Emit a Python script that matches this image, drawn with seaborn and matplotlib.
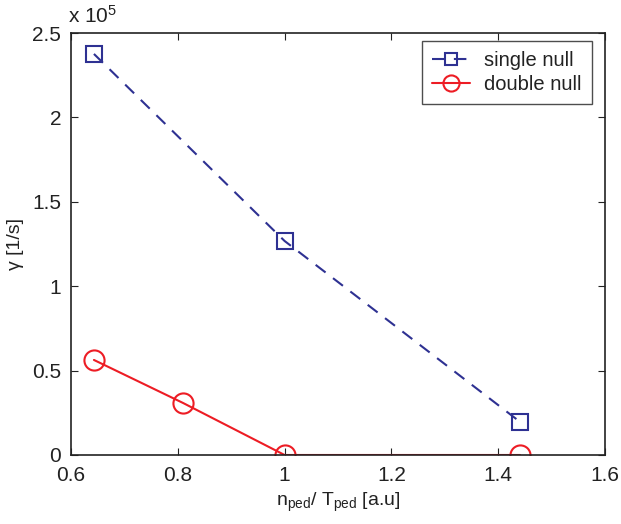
import matplotlib
matplotlib.use("Agg")
import matplotlib.pyplot as plt
import pandas as pd
import seaborn as sns

# values (y in units of 1e5)
single_x = [0.643, 1.0, 1.441]
single_y = [2.376, 1.268, 0.196]
double_x = [0.643, 0.81, 1.0, 1.441]
double_y = [0.563, 0.308, 0.0, 0.0]

x_ticks = [0.6, 0.8, 1.0, 1.2, 1.4, 1.6]
x_tick_labels = ["0.6", "0.8", "1", "1.2", "1.4", "1.6"]
y_ticks = [0, 0.5, 1, 1.5, 2, 2.5]
y_tick_labels = ["0", "0.5", "1", "1.5", "2", "2.5"]

blue = "#2e3192"
red = "#ed1c24"
txt = "#222222"

sns.set_style("ticks")
plt.rcParams['font.family'] = ['Liberation Sans', 'DejaVu Sans']
plt.rcParams['mathtext.fontset'] = 'custom'
plt.rcParams['mathtext.rm'] = 'Liberation Sans'
plt.rcParams['mathtext.it'] = 'Liberation Sans'

fig = plt.figure(figsize=(6.21, 5.24), dpi=100)
ax = fig.add_axes([0.1143, 0.1317, 0.8599, 0.8053])

single = pd.DataFrame({'x': single_x, 'y': single_y})
double = pd.DataFrame({'x': double_x, 'y': double_y})

sns.lineplot(single, x='x', y='y', ax=ax, color=blue, linewidth=1.5,
             marker='s', markersize=11.5, markerfacecolor='none',
             markeredgecolor=blue, markeredgewidth=1.5,
             label='single null', sort=False)
ax.lines[-1].set_dashes((6, 4.5))
sns.lineplot(double, x='x', y='y', ax=ax, color=red, linewidth=1.5,
             marker='o', markersize=14.5, markerfacecolor='none',
             markeredgecolor=red, markeredgewidth=1.5,
             label='double null', sort=False)

ax.set_xlim(0.6, 1.6)
ax.set_ylim(0, 2.5)
ax.set_xticks(x_ticks)
ax.set_xticklabels(x_tick_labels)
ax.set_yticks(y_ticks)
ax.set_yticklabels(y_tick_labels)
ax.tick_params(direction='in', length=5, width=0.8, labelsize=15,
               colors=txt, top=True, right=True)
ax.tick_params(axis='x', pad=8)
ax.tick_params(axis='y', pad=7)
for s in ax.spines.values():
    s.set_visible(True)
    s.set_linewidth(1.2)
    s.set_color('#222222')

ax.set_xlabel(r"n$_{\mathrm{ped}}$/ T$_{\mathrm{ped}}$ [a.u]", fontsize=14, color=txt, labelpad=4)
ax.set_ylabel("γ [1/s]", fontsize=14, color=txt, labelpad=6)
fig.text(0.11, 0.948, r"x 10$^5$", fontsize=15, color=txt, ha='left', va='bottom')

leg = ax.legend(loc='upper right', fontsize=14.5, frameon=True, fancybox=False,
                handlelength=1.9, borderpad=0.5, labelspacing=0.25,
                handletextpad=0.7, borderaxespad=0.4, markerscale=0.8,
                bbox_to_anchor=(0.99, 1.0))
leg.get_frame().set_edgecolor('#222222')
leg.get_frame().set_linewidth(1.0)
for t in leg.get_texts():
    t.set_color(txt)

fig.savefig("out.png", dpi=100)
